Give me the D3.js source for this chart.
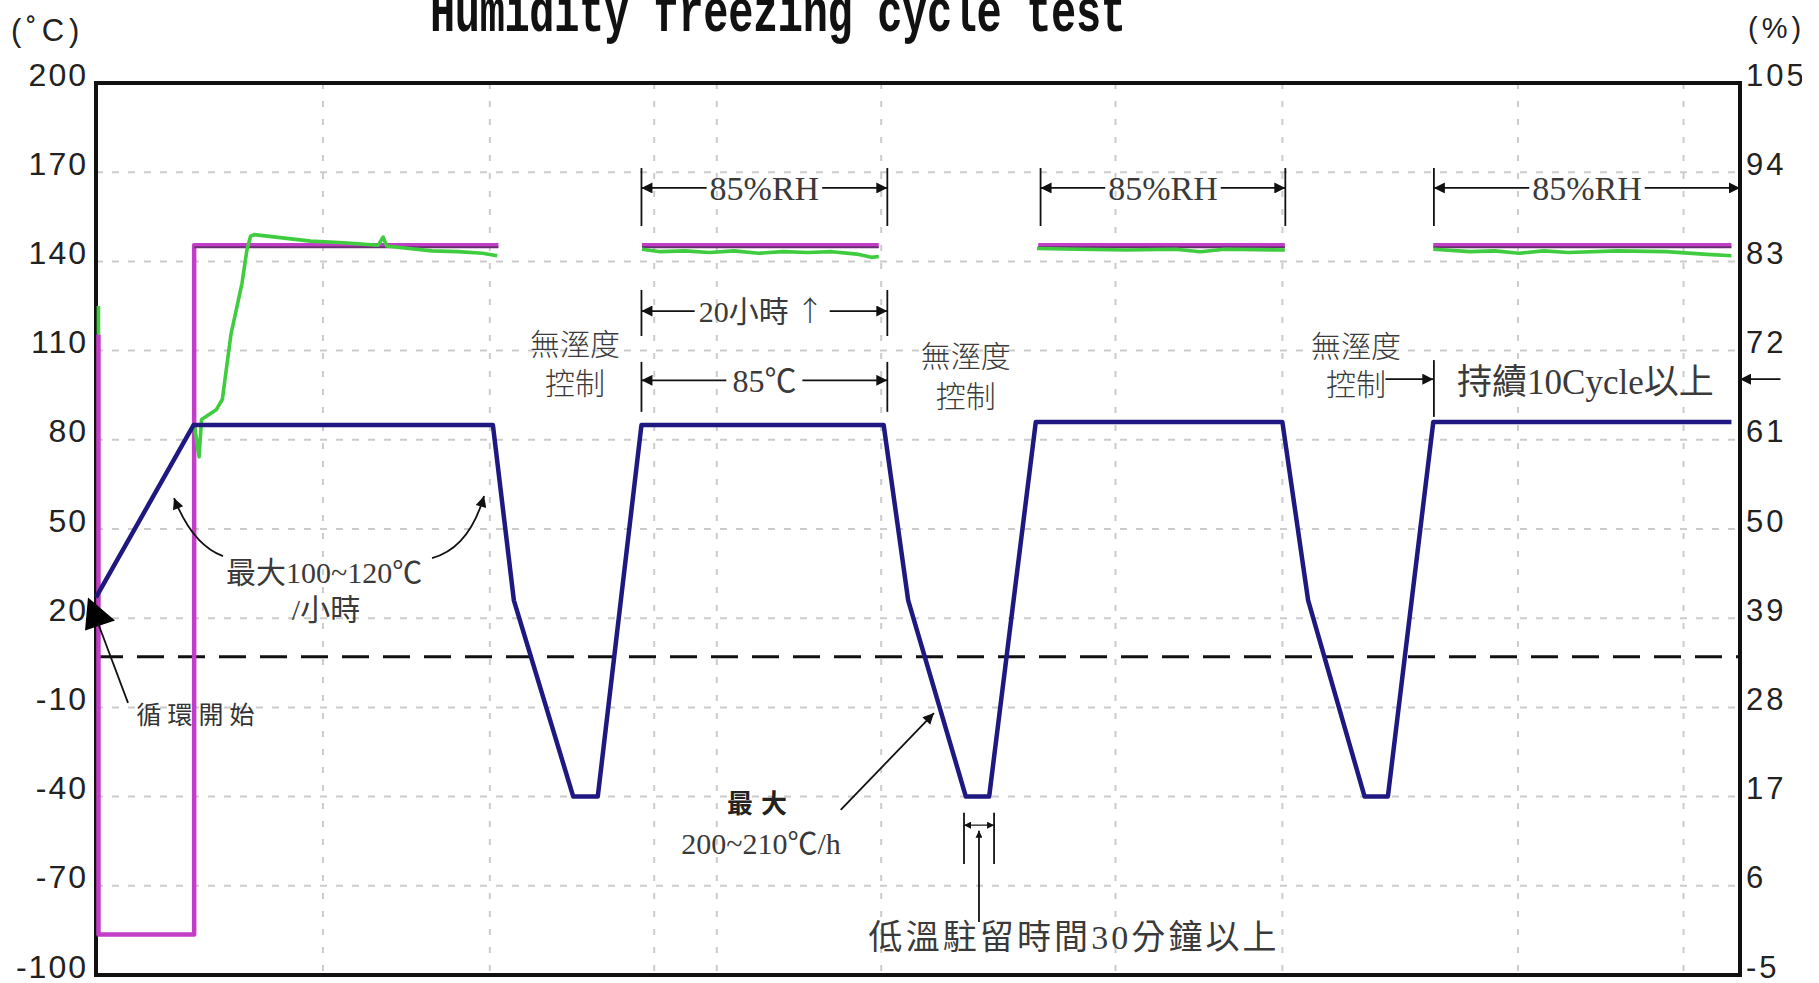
<!DOCTYPE html>
<html>
<head>
<meta charset="utf-8">
<script src="https://cdn.jsdelivr.net/npm/d3@7"></script>
<style>
  html, body { margin: 0; padding: 0; background: #fff; }
  svg { display: block; }
</style>
</head>
<body>
<svg id="chart" width="1819" height="983"></svg>
<script>
// time in hours, temperature in deg C, humidity in %RH
const tempTicks = [200, 170, 140, 110, 80, 50, 20, -10, -40, -70, -100];
const humTicks = [105, 94, 83, 72, 61, 50, 39, 28, 17, 6, -5];
const gridHours = [18.5, 32.1, 45.5, 50.6, 64.0, 83.1, 96.7, 115.9, 129.4];
const zeroLine = 7;

// chamber temperature
const tempTime  = [0, 7.96, 32.35, 34.06, 38.9, 40.9, 44.46, 64.2, 66.2, 70.9, 72.8, 76.6, 96.7, 98.8, 103.4, 105.3, 109.0, 133.3];
const tempValue = [27, 85, 85, 26, -40, -40, 85, 85, 26, -40, -40, 86, 86, 26, -40, -40, 86, 86];

// humidity set point (null = no humidity control)
const rhSetTime  = [0.2, 0.2, 8.0, 8.0, 32.8, null, 44.5, 63.8, null, 76.8, 96.9, null, 109.0, 133.3];
const rhSetValue = [74, 0, 0, 85, 85, null, 85, 85, null, 85, 85, null, 85, 85];

// measured humidity
const rhTime  = [0.2, 0.2, null,
  8.0, 8.4, 8.6, 9.8, 10.3, 11.0, 11.9, 12.3, 12.6, 12.9, 17.5, 20.2, 23.0, 23.4, 23.7, 25.5, 27.4, 29.5, 31.5, 32.7, null,
  44.5, 46, 48, 50, 52, 54, 56, 58, 60, 62, 63.2, 63.8, null,
  76.7, 80, 84, 88, 90, 92, 96.9, null,
  109.0, 112, 114, 116, 118, 120, 124, 128, 131, 133.3];
const rhValue = [77.5, 74, null,
  63, 58.9, 63.5, 64.7, 66, 74, 80.3, 84.4, 86.1, 86.3, 85.5, 85.3, 85.0, 86.0, 84.9, 84.6, 84.3, 84.2, 84.0, 83.7, null,
  84.5, 84.2, 84.3, 84.1, 84.3, 84.0, 84.2, 84.1, 84.2, 83.9, 83.5, 83.6, null,
  84.6, 84.5, 84.4, 84.5, 84.2, 84.5, 84.4, null,
  84.5, 84.2, 84.3, 84.0, 84.3, 84.1, 84.3, 84.2, 83.9, 83.7];

const svg = d3.select('#chart');
const margin = { top: 83, right: 79, bottom: 8, left: 96 };
const width = 1819 - margin.left - margin.right;
const height = 983 - margin.top - margin.bottom;

const x = d3.scaleLinear().domain([0, 134]).range([margin.left, margin.left + width]);
const yT = d3.scaleLinear().domain([-100, 200]).range([margin.top + height, margin.top]);
const yH = d3.scaleLinear().domain([-5, 105]).range([margin.top + height, margin.top]);

const zip = (ts, vs) => ts.map((t, i) => ({ t, v: vs[i] }));

const defs = svg.append('defs');
defs.append('marker')
    .attr('id', 'ah')
    .attr('viewBox', '0 0 10 10')
    .attr('refX', 10).attr('refY', 5)
    .attr('markerWidth', 16).attr('markerHeight', 11)
    .attr('markerUnits', 'userSpaceOnUse')
    .attr('orient', 'auto-start-reverse')
  .append('path')
    .attr('d', 'M0,0L10,5L0,10z')
    .attr('fill', '#111');
defs.append('marker')
    .attr('id', 'ahs')
    .attr('viewBox', '0 0 10 10')
    .attr('refX', 10).attr('refY', 5)
    .attr('markerWidth', 9).attr('markerHeight', 7)
    .attr('markerUnits', 'userSpaceOnUse')
    .attr('orient', 'auto-start-reverse')
  .append('path')
    .attr('d', 'M0,0L10,5L0,10z')
    .attr('fill', '#111');

// grid
const grid = svg.append('g');
grid.selectAll('line.h')
  .data(tempTicks.slice(1, -1))
  .join('line')
    .attr('class', 'h')
    .attr('x1', x(0)).attr('x2', x(134))
    .attr('y1', d => yT(d)).attr('y2', d => yT(d))
    .attr('stroke', '#cccccc').attr('stroke-width', 2)
    .attr('stroke-dasharray', '7,9');
grid.selectAll('line.v')
  .data(gridHours)
  .join('line')
    .attr('class', 'v')
    .attr('x1', d => x(d)).attr('x2', d => x(d))
    .attr('y1', yT(200)).attr('y2', yT(-100))
    .attr('stroke', '#cccccc').attr('stroke-width', 2)
    .attr('stroke-dasharray', '6,12');

// 0 reference dashed line
svg.append('line')
  .attr('x1', x(0)).attr('x2', x(134))
  .attr('y1', yT(zeroLine)).attr('y2', yT(zeroLine))
  .attr('stroke', '#111').attr('stroke-width', 3)
  .attr('stroke-dasharray', '27,14');

const lineT = d3.line().defined(d => d.t != null).x(d => x(d.t)).y(d => yT(d.v));
const lineH = d3.line().defined(d => d.t != null).x(d => x(d.t)).y(d => yH(d.v));

// frame
svg.append('rect')
  .attr('x', x(0)).attr('y', yT(200))
  .attr('width', x(134) - x(0)).attr('height', yT(-100) - yT(200))
  .attr('fill', 'none').attr('stroke', '#111').attr('stroke-width', 4);

// humidity set point
svg.append('path')
  .datum(zip(rhSetTime, rhSetValue))
  .attr('d', lineH)
  .attr('fill', 'none')
  .attr('stroke', '#c23ec6').attr('stroke-width', 4.5)
  .attr('stroke-linejoin', 'round');
svg.append('path')
  .datum(zip(rhSetTime, rhSetValue).map(d => d.v >= 80 ? { t: d.t, v: d.v - 0.25 } : { t: null, v: null }))
  .attr('d', lineH)
  .attr('fill', 'none')
  .attr('stroke', '#6b2f74').attr('stroke-width', 2);

// measured humidity
svg.append('path')
  .datum(zip(rhTime, rhValue))
  .attr('d', lineH)
  .attr('fill', 'none')
  .attr('stroke', '#3fcc3f').attr('stroke-width', 3.6)
  .attr('stroke-linejoin', 'round');

// temperature
svg.append('path')
  .datum(zip(tempTime, tempValue))
  .attr('d', lineT)
  .attr('fill', 'none')
  .attr('stroke', '#1e1880').attr('stroke-width', 4.5)
  .attr('stroke-linejoin', 'round');

// axes labels
const fmt = d => d < 0 ? '-' + Math.abs(d) : String(d);
svg.append('g')
  .attr('transform', `translate(${x(0) - 8},0)`)
  .call(d3.axisLeft(yT).tickValues(tempTicks).tickSize(0).tickPadding(0).tickFormat(fmt))
  .call(g => g.select('.domain').remove())
  .call(g => g.selectAll('text')
    .attr('dy', 2)
    .attr('fill', '#222')
    .attr('font-family', 'Liberation Sans, Arial, sans-serif')
    .attr('font-size', 32)
    .attr('letter-spacing', 2));

svg.append('g')
  .attr('transform', `translate(${x(134) + 6},0)`)
  .call(d3.axisRight(yH).tickValues(humTicks).tickSize(0).tickPadding(0).tickFormat(fmt))
  .call(g => g.select('.domain').remove())
  .call(g => g.selectAll('text')
    .attr('dy', 2)
    .attr('fill', '#222')
    .attr('font-family', 'Liberation Sans, Arial, sans-serif')
    .attr('font-size', 31)
    .attr('letter-spacing', 3));

svg.append('text')
  .attr('x', 11).attr('y', 41)
  .attr('font-family', 'Liberation Sans, Arial, sans-serif')
  .attr('font-size', 31).attr('fill', '#222')
  .attr('letter-spacing', 5)
  .text('(˚C)');
svg.append('text')
  .attr('x', 1748).attr('y', 38)
  .attr('font-family', 'Liberation Sans, Arial, sans-serif')
  .attr('font-size', 29).attr('fill', '#222')
  .attr('letter-spacing', 4)
  .text('(%)');

// title
svg.append('text')
  .attr('transform', 'translate(430,31) scale(1,1.45)')
  .attr('font-family', 'Liberation Mono, Courier New, monospace')
  .attr('font-weight', 'bold')
  .attr('font-size', 42)
  .attr('textLength', 696)
  .attr('fill', '#111')
  .text('Humidity freezing cycle test');

// annotations
const ann = svg.append('g').attr('fill', '#3a3a3a');
const serif = 'Liberation Serif, Times New Roman, Noto Sans CJK TC, serif';
const cjk = 'Noto Sans CJK TC, Noto Sans CJK SC, sans-serif';

function label(px, py, txt, size, family, extra) {
  const t = ann.append('text')
    .attr('x', px).attr('y', py)
    .attr('dy', '0.36em')
    .attr('text-anchor', 'middle')
    .attr('font-family', family)
    .attr('font-size', size)
    .text(txt);
  if (extra) extra(t);
  return t;
}
function seg(x1, y1, x2, y2, marker, w) {
  const l = ann.append('line')
    .attr('x1', x1).attr('y1', y1).attr('x2', x2).attr('y2', y2)
    .attr('stroke', '#111').attr('stroke-width', w || 1.8);
  if (marker) l.attr('marker-end', `url(#${marker})`);
  return l;
}
function dimension(h1, h2, t, txt, size, family, gapL, gapR) {
  const xa = x(h1), xb = x(h2), yy = yT(t), mid = (xa + xb) / 2;
  const node = label(mid, yy, txt, size, family).node();
  const w = node.getComputedTextLength();
  seg(mid - w / 2 - gapL, yy, xa, yy, 'ah');
  seg(mid + w / 2 + gapR, yy, xb, yy, 'ah');
}
function tick(h, t1, t2) {
  seg(x(h), yT(t1), x(h), yT(t2), null, 1.8);
}

const spans = [[44.46, 64.5], [76.99, 96.94], [109.05, 134]];
spans.forEach(s => {
  dimension(s[0], s[1], 164.7, '85%RH', 34, serif, 3, 3);
  tick(s[0], 171.4, 151.9);
  if (s[1] < 134) tick(s[1], 171.4, 151.9);
});

// 20 h dwell: text sits left of centre with an up arrow after it
label(x(52.8), yT(123.3), '20小時', 30, serif);
label(x(58.2), yT(123.3), '↑', 28, cjk, t => t.attr('font-weight', 300));
seg(x(48.8), yT(123.3), x(44.46), yT(123.3), 'ah');
seg(x(59.8), yT(123.3), x(64.5), yT(123.3), 'ah');
tick(44.46, 130.4, 114.9); tick(64.5, 130.4, 114.9);

dimension(44.46, 64.5, 100, '85℃', 32, serif, 6, 6);
tick(44.46, 106.2, 89.4); tick(64.5, 106.2, 89.4);

// no humidity control notes
[[39.05, 112.05, 99.1], [70.9, 108.2, 94.7], [102.7, 111.5, 98.8]].forEach(n => {
  label(x(n[0]), yT(n[1]), '無溼度', 30, cjk, t => t.attr('font-weight', 300));
  label(x(n[0]), yT(n[2]), '控制', 30, cjk, t => t.attr('font-weight', 300));
});
seg(x(105.1), yT(100.4), x(109.0), yT(100.4), 'ah');

label(x(121.4), yT(99.8), '持續10Cycle以上', 35, serif);
tick(109.05, 106.8, 87.7);
seg(x(137.3), yT(100.4), x(134), yT(100.4), 'ah');

// ramp-rate notes
label(x(18.6), yT(35.5), '最大100~120℃', 30, serif);
label(x(18.75), yT(23.1), '/小時', 30, serif);
ann.append('path')
  .attr('d', `M${x(10.35)},${yT(40.9)} Q${x(7.9)},${yT(44.5)} ${x(6.36)},${yT(60.4)}`)
  .attr('fill', 'none').attr('stroke', '#111').attr('stroke-width', 1.8)
  .attr('marker-end', 'url(#ah)');
ann.append('path')
  .attr('d', `M${x(27.39)},${yT(40.2)} Q${x(30.4)},${yT(43.6)} ${x(31.63)},${yT(61.1)}`)
  .attr('fill', 'none').attr('stroke', '#111').attr('stroke-width', 1.8)
  .attr('marker-end', 'url(#ah)');

// cycle start
const x0 = x(tempTime[0]), y0 = yT(tempValue[0]);
ann.append('path')
  .attr('d', `M${x0 - 8},${y0} L${x0 + 19},${y0 + 23} L${x0 - 11},${y0 + 33} Z`)
  .attr('fill', '#000');
seg(x(2.61), yT(-8.5), x(0.16), yT(18.4));
label(x(8.36), yT(-12.6), '循環開始', 25, cjk, t => t.attr('letter-spacing', 6).attr('fill', '#333'));

// cooling rate note
label(x(54.2), yT(-42.5), '最大', 26, cjk, t => t.attr('font-weight', 'bold').attr('letter-spacing', 8).attr('fill', '#222'));
label(x(54.2), yT(-55.6), '200~210℃/h', 30, serif);
seg(x(60.7), yT(-44.5), x(68.3), yT(-11.9), 'ah');

// dwell note
tick(70.75, -45.4, -62.7); tick(73.2, -45.4, -62.7);
seg(x(71.97), yT(-49.6), x(70.75), yT(-49.6), 'ahs', 1.2);
seg(x(71.97), yT(-49.6), x(73.2), yT(-49.6), 'ahs', 1.2);
seg(x(71.97), yT(-82.2), x(71.97), yT(-51.5), 'ahs');
label(x(79.6), yT(-87.2), '低溫駐留時間30分鐘以上', 34, serif, t => t.attr('textLength', 408));

// the source image is trimmed on its right edge
svg.append('rect')
  .attr('x', 1802).attr('y', 0)
  .attr('width', 17).attr('height', 983)
  .attr('fill', '#fff');
</script>
</body>
</html>
